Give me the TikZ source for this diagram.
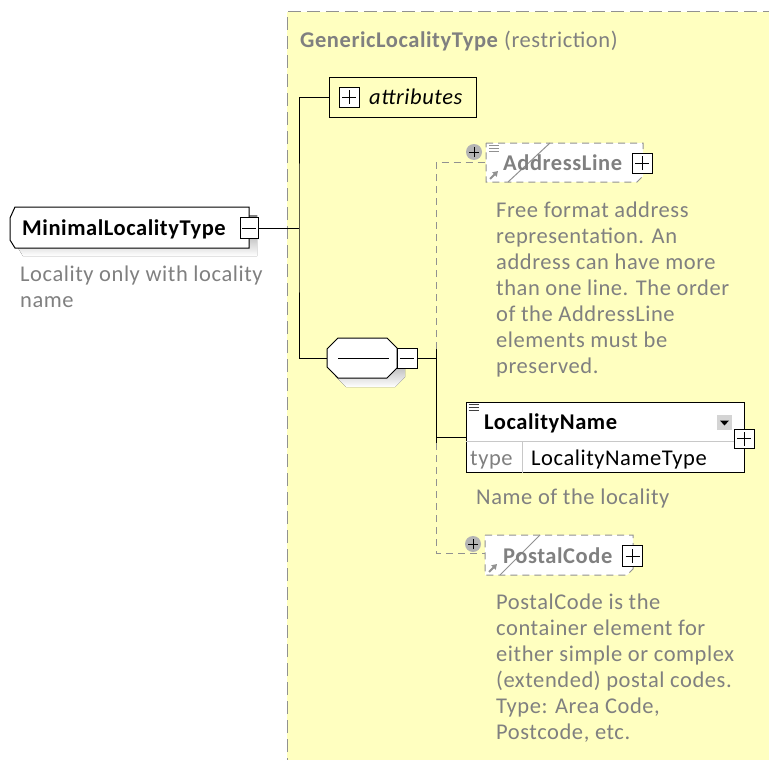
\documentclass[tikz,border=0pt]{standalone}
\usepackage{fontspec}
\setmainfont[LetterSpace=2.5]{Carlito}
\usetikzlibrary{arrows.meta}
\definecolor{paneyellow}{RGB}{255,255,192}
\definecolor{fadetext}{RGB}{128,128,128}
\definecolor{dashgray}{RGB}{145,145,145}
\definecolor{shade}{RGB}{192,192,192}
\definecolor{circgray}{RGB}{180,180,180}
\definecolor{rulegray}{RGB}{200,200,200}
\definecolor{iconbtn}{RGB}{212,212,212}
\tikzset{
  lbl/.style={inner sep=0pt, anchor=base west},
  dim/.style={lbl, text=fadetext},
  desc/.style={dim, align=left},
  frame/.style={inner sep=0pt, outer sep=0pt},
  wire/.style={draw=black, line width=1pt},
  optwire/.style={draw=dashgray, line width=1pt, dash pattern=on 7pt off 5pt},
  outline/.style={draw=black, line width=1pt, fill=white},
  dashoutline/.style={draw=dashgray, line width=1pt, dash pattern=on 7pt off 5pt, fill=white},
  btn/.style={draw=black, fill=white, line width=0.8pt, minimum width=20pt, minimum height=20pt, inner sep=0pt},
  minusbtn/.style={btn, path picture={\draw[line width=0.8pt] (path picture bounding box.center) ++(-7pt,0pt) -- ++(14pt,0pt);}},
  plusbtn/.style={btn, path picture={\draw[line width=0.8pt] (path picture bounding box.center) ++(-7pt,0pt) -- ++(14pt,0pt)
      (path picture bounding box.center) ++(0pt,-7pt) -- ++(0pt,14pt);}},
  pluscirc/.style={circle, fill=circgray, minimum size=16pt, inner sep=0pt,
      path picture={\draw[line width=1pt] (path picture bounding box.center) ++(-5pt,0pt) -- ++(10pt,0pt)
      (path picture bounding box.center) ++(0pt,-5pt) -- ++(0pt,10pt);}},
  strike/.style={draw=dashgray, line width=1pt},
  refarrow/.style={draw=dashgray, line width=2pt, -{Triangle[length=5pt,width=6pt]}},
  docicon/.style={draw=dashgray, line width=0.8pt},
}
\begin{document}
\begin{tikzpicture}[x=1pt, y=-1pt, font=\fontsize{22.5}{26}\selectfont]
\useasboundingbox (0,0) rectangle (769,760);
\clip (0,0) rectangle (769,760);

% restriction pane
\fill[paneyellow] (287,12) rectangle (790,790);
\draw[dashgray, line width=1pt, dash pattern=on 13pt off 6pt] (287,790) -- (287,12) -- (790,12);
\node[dim] (title) at (300,48) {\textbf{GenericLocalityType} (restriction)};

% complex type: box chamfered on the left, with shadow
\fill[shade] (23,215) -- (257,215) -- (257,256) -- (23,256) -- (18,248) -- (18,226) -- cycle;
\draw[outline] (15,207) -- (249,207) -- (249,248) -- (15,248) -- (10,240) -- (10,218) -- cycle;
\node[frame, minimum width=239pt, minimum height=41pt] (mlt) at (129.5,227.5) {};
\node[lbl] (mltname) at (22,235) {\textbf{MinimalLocalityType}};
\node[minusbtn, minimum width=18pt, minimum height=21pt] (mltbtn) at (249,228) {};
\node[desc] (mltdoc) at (20,307) {Locality only with locality\\name};

% attributes group
\node[draw=black, line width=1pt, minimum width=147pt, minimum height=39pt, inner sep=0pt] (attr) at (402.5,97.5) {};
\node[plusbtn] (attrbtn) at (349,97) {};
\node[lbl] (attrname) at (369,105) {\itshape attributes};

% sequence compositor: octagon with shadow
\fill[shade] (346,347) -- (395,347) -- (405,357) -- (405,377) -- (395,387) -- (346,387) -- (335,376) -- (335,358) -- cycle;
\draw[outline] (338,338) -- (387,338) -- (397,348) -- (397,368) -- (387,378) -- (338,378) -- (327,367) -- (327,349) -- cycle;
\node[frame, minimum width=70pt, minimum height=40pt] (seq) at (362,358) {};
\draw[line width=1pt] ([xshift=11pt]seq.west) -- ([xshift=-8pt]seq.east);
\node[minusbtn] (seqbtn) at (407,358) {};

% AddressLine (optional, unbounded)
\draw[dashoutline] (486,143) -- (643,143) -- (643,176) -- (637,182) -- (486,182) -- cycle;
\node[frame, minimum width=157pt, minimum height=39pt] (addr) at (564.5,162.5) {};
\draw[strike] ([xshift=22pt]addr.south west) -- ([xshift=64pt]addr.north west);
\draw[docicon] ([shift={(3,2)}]addr.north west) -- ++(10,0)
               ([shift={(3,5)}]addr.north west) -- ++(10,0)
               ([shift={(3,8)}]addr.north west) -- ++(10,0);
\draw[refarrow] ([shift={(4,-3)}]addr.south west) -- ++(8,-8);
\node[lbl, text=fadetext] (addrname) at (503,170) {\textbf{AddressLine}};
\node[plusbtn] (addrbtn) at (642,163) {};
\node[desc] (addrdoc) at (496,373) {Free format address\\representation. An\\address can have more\\than one line. The order\\of the AddressLine\\elements must be\\preserved.};

% LocalityName (mandatory)
\node[draw=black, line width=1pt, fill=white, minimum width=278pt, minimum height=70pt, inner sep=0pt] (loc) at (605,437) {};
\draw[rulegray, line width=1pt] ([yshift=-4pt]loc.west) -- ([yshift=-4pt]loc.east);
\draw[rulegray, line width=1pt] ([xshift=57pt,yshift=-4pt]loc.west) -- ([xshift=57pt]loc.south west);
\draw[black!75, line width=0.8pt] ([shift={(3,3)}]loc.north west) -- ++(10,0)
               ([shift={(3,6)}]loc.north west) -- ++(10,0)
               ([shift={(3,9)}]loc.north west) -- ++(10,0);
\node[lbl] (locname) at (484,429) {\textbf{LocalityName}};
\node[fill=iconbtn, minimum width=15pt, minimum height=15pt, inner sep=0pt] (locdrop) at (724.5,422.5) {};
\fill[black] ([shift={(-4.5,-2)}]locdrop.center) -- ++(9,0) -- ++(-4.5,5) -- cycle;
\node[plusbtn, minimum height=19pt] (locbtn) at (744,438.5) {};
\node[dim] (loctypekey) at (470,465) {type};
\node[lbl] (loctype) at (531,465) {LocalityNameType};
\node[dim] (locdoc) at (476,504) {Name of the locality};

% PostalCode (optional)
\draw[dashoutline] (485,535) -- (633,535) -- (633,569) -- (627,575) -- (485,575) -- cycle;
\node[frame, minimum width=148pt, minimum height=40pt] (postal) at (559,555) {};
\draw[strike] ([xshift=15pt]postal.south west) -- ([xshift=55pt]postal.north west);
\draw[refarrow] ([shift={(4,-3)}]postal.south west) -- ++(8,-8);
\node[lbl, text=fadetext] (postalname) at (503,563) {\textbf{PostalCode}};
\node[plusbtn, minimum height=21pt] (postalbtn) at (632.5,556) {};
\node[desc] (postaldoc) at (496,739) {PostalCode is the\\container element for\\either simple or complex\\(extended) postal codes.\\Type: Area Code,\\Postcode, etc.};

% connectors
\coordinate (fork) at (299,228);
\coordinate (bustop) at (436,349);
\coordinate (busbot) at (436,443);
\draw[wire] (mltbtn.east) -- (fork);
\draw[wire] (attr.west) -| (fork) |- (seq.west);
\draw[wire] (seqbtn.east) -- (seqbtn.east -| bustop);
\draw[wire] (bustop) -- (busbot);
\draw[wire] (loc.west) -- (loc.west -| bustop);
\draw[optwire] (bustop) |- (addr.west);
\draw[optwire] (busbot) |- ([yshift=2pt]postal.west);
\node[pluscirc] (addropt) at (474,152) {};
\node[pluscirc] (postalopt) at (473,544) {};
\end{tikzpicture}
\end{document}
